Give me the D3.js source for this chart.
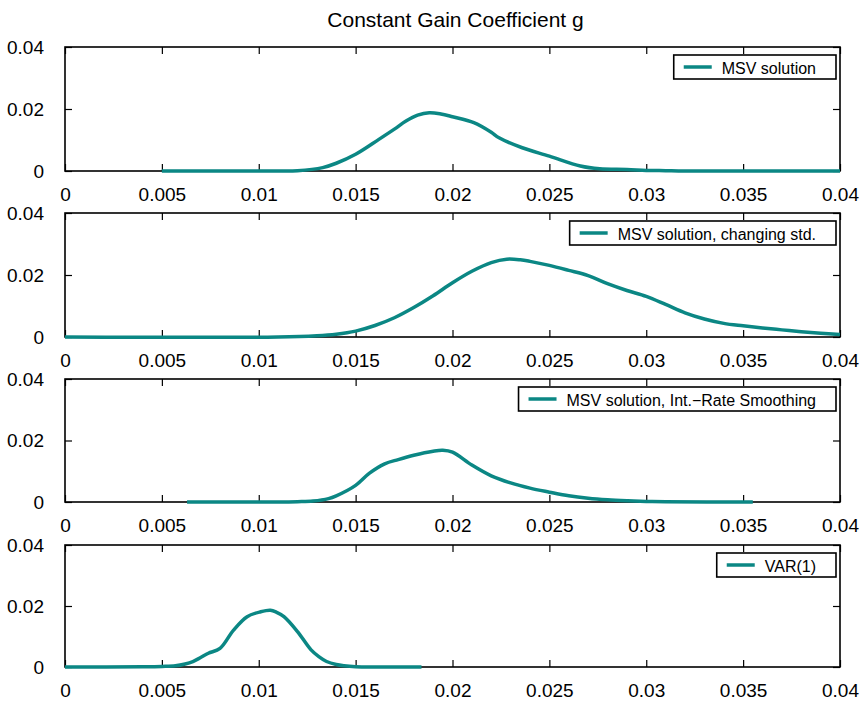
<!DOCTYPE html>
<html>
<head>
<meta charset="utf-8">
<script src="https://cdn.jsdelivr.net/npm/d3@7/dist/d3.min.js"></script>
<style>
  html, body { margin: 0; padding: 0; background: #fff; }
  svg { display: block; font-family: "Liberation Sans", Arial, Helvetica, sans-serif; }
</style>
</head>
<body>
<svg id="chart" width="864" height="701"></svg>
<script>
// ---- Data ----
const chartTitle = "Constant Gain Coefficient g";
const xTicks = [0, 0.005, 0.01, 0.015, 0.02, 0.025, 0.03, 0.035, 0.04];
const xTickLabels = ["0", "0.005", "0.01", "0.015", "0.02", "0.025", "0.03", "0.035", "0.04"];
const yTicks = [0, 0.02, 0.04];
const yTickLabels = ["0", "0.02", "0.04"];
const seriesNames = ["MSV solution", "MSV solution, changing std.", "MSV solution, Int.\u2212Rate Smoothing", "VAR(1)"];

const msvX = [0.005, 0.011, 0.012, 0.0133, 0.014, 0.015, 0.0162, 0.017, 0.0176, 0.0182, 0.0188, 0.0194, 0.020, 0.0211, 0.022, 0.0224, 0.0236, 0.025, 0.0266, 0.0276, 0.029, 0.030, 0.031, 0.032, 0.040];
const msvY = [0, 0, 0.0001, 0.0011, 0.0025, 0.0054, 0.0102, 0.0135, 0.0161, 0.0180, 0.0188, 0.0184, 0.0175, 0.0156, 0.0125, 0.0107, 0.0075, 0.0048, 0.0016, 0.0007, 0.0005, 0.0002, 0.0001, 0, 0];

const stdX = [0, 0.011, 0.013, 0.014, 0.015, 0.016, 0.017, 0.018, 0.019, 0.020, 0.021, 0.022, 0.0228, 0.0235, 0.024, 0.025, 0.026, 0.027, 0.028, 0.029, 0.030, 0.031, 0.032, 0.033, 0.034, 0.035, 0.036, 0.037, 0.038, 0.039, 0.040];
const stdY = [0, 0, 0.0004, 0.0009, 0.0019, 0.0037, 0.0062, 0.0095, 0.0133, 0.0175, 0.0212, 0.0240, 0.0251, 0.0249, 0.0244, 0.0231, 0.0215, 0.0198, 0.0172, 0.0150, 0.0131, 0.0105, 0.0078, 0.0058, 0.0044, 0.0036, 0.0029, 0.0023, 0.0017, 0.0012, 0.0008];

const irsX = [0.0063, 0.011, 0.012, 0.0128, 0.0136, 0.014, 0.015, 0.0157, 0.0165, 0.0172, 0.018, 0.019, 0.0195, 0.020, 0.021, 0.022, 0.023, 0.024, 0.025, 0.026, 0.027, 0.028, 0.029, 0.030, 0.031, 0.0355];
const irsY = [0, 0, 0.0001, 0.0003, 0.0011, 0.0020, 0.0054, 0.0093, 0.0124, 0.0138, 0.0152, 0.0165, 0.0168, 0.0162, 0.0120, 0.0085, 0.0062, 0.0045, 0.0032, 0.0020, 0.0012, 0.0007, 0.0004, 0.0002, 0.0001, 0];

const varX = [0, 0.004, 0.005, 0.0057, 0.0062, 0.0066, 0.007, 0.0074, 0.008, 0.0087, 0.0094, 0.0101, 0.0106, 0.0109, 0.0113, 0.012, 0.0127, 0.0131, 0.0135, 0.014, 0.0144, 0.015, 0.016, 0.0184];
const varY = [0, 0.0001, 0.0002, 0.0004, 0.0010, 0.0018, 0.0031, 0.0045, 0.0061, 0.0121, 0.0165, 0.0181, 0.0186, 0.0180, 0.0165, 0.0116, 0.0056, 0.0034, 0.0018, 0.0008, 0.0004, 0.0001, 0, 0];

const seriesX = [msvX, stdX, irsX, varX];
const seriesY = [msvY, stdY, irsY, varY];

// ---- Layout ----
const svg = d3.select("#chart");
const left = 65, right = 840;
const panelTops = [47, 213, 379, 545];
const panelHs = [124, 124, 123, 122];
const lineColor = "#0b8784";
const tickLen = 7;

svg.append("text")
  .attr("x", (left + right) / 2 + 3)
  .attr("y", 27)
  .attr("text-anchor", "middle")
  .attr("font-size", 21)
  .attr("fill", "#000")
  .text(chartTitle);

const x = d3.scaleLinear().domain([0, 0.04]).range([left, right]);

seriesNames.forEach((name, i) => {
  const top = panelTops[i];
  const panelH = panelHs[i];
  const y = d3.scaleLinear().domain([0, 0.04]).range([top + panelH, top]);
  const g = svg.append("g");

  const xb = g.append("g").attr("transform", `translate(0,${top + panelH})`)
    .call(d3.axisBottom(x).tickValues(xTicks).tickSize(-tickLen).tickPadding(tickLen + 10)
      .tickFormat((d, k) => xTickLabels[k]));
  const xt = g.append("g").attr("transform", `translate(0,${top})`)
    .call(d3.axisTop(x).tickValues(xTicks).tickSize(-tickLen).tickFormat(""));
  const yl = g.append("g").attr("transform", `translate(${left},0)`)
    .call(d3.axisLeft(y).tickValues(yTicks).tickSize(-tickLen).tickPadding(tickLen + 14)
      .tickFormat((d, k) => yTickLabels[k]));
  const yr = g.append("g").attr("transform", `translate(${right},0)`)
    .call(d3.axisRight(y).tickValues(yTicks).tickSize(-tickLen).tickFormat(""));

  [xb, xt, yl, yr].forEach(a => {
    a.selectAll(".tick line").attr("stroke", "#000").attr("stroke-width", 1.2);
    a.selectAll(".tick text").attr("fill", "#000").attr("font-size", 19)
      .attr("font-family", "'Liberation Sans', Arial, sans-serif");
  });
  xb.selectAll(".tick text").attr("dy", "0.71em");
  g.selectAll(".domain").remove();

  g.append("rect").attr("x", left).attr("y", top)
    .attr("width", right - left).attr("height", panelH)
    .attr("fill", "none").attr("stroke", "#000").attr("stroke-width", 1.6);

  const pts = seriesX[i].map((v, k) => [v, seriesY[i][k]]);
  const line = d3.line().x(d => x(d[0])).y(d => y(Math.max(0, d[1]))).curve(d3.curveCatmullRom.alpha(0.5));
  g.append("path").datum(pts)
    .attr("d", line)
    .attr("fill", "none")
    .attr("stroke", lineColor)
    .attr("stroke-width", 3.5)
    .attr("stroke-linejoin", "round");

  const leg = g.append("g");
  const txt = leg.append("text")
    .attr("font-size", 16)
    .attr("fill", "#000")
    .attr("dominant-baseline", "central")
    .text(name);
  const tw = txt.node().getComputedTextLength();
  const boxW = tw + 68;
  const boxH = 24;
  const bx = right - 4 - boxW;
  const by = top + 8;
  leg.insert("rect", "text")
    .attr("x", bx).attr("y", by).attr("width", boxW).attr("height", boxH)
    .attr("fill", "#fff").attr("stroke", "#000").attr("stroke-width", 1.6);
  leg.append("line")
    .attr("x1", bx + 10).attr("x2", bx + 38)
    .attr("y1", by + boxH / 2).attr("y2", by + boxH / 2)
    .attr("stroke", lineColor).attr("stroke-width", 3.5);
  txt.attr("x", bx + 48).attr("y", by + boxH / 2 + 1);
});
</script>
</body>
</html>
